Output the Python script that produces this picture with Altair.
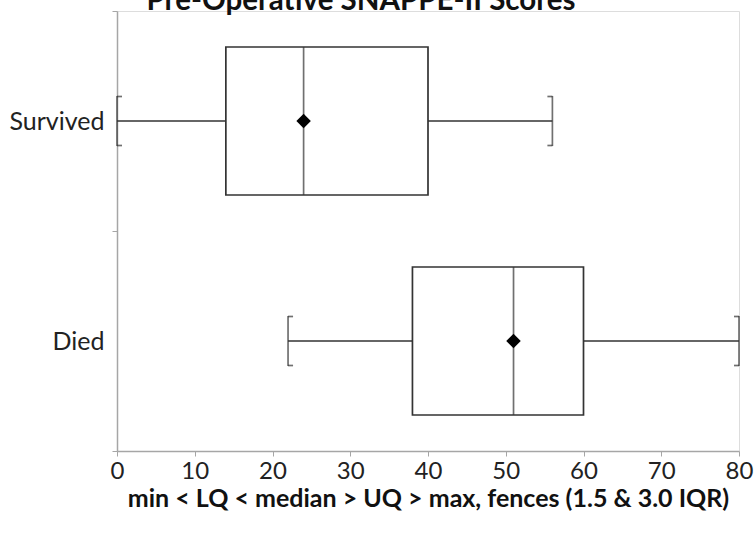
import altair as alt
import pandas as pd

categories = ["Survived", "Died"]
mins = [0, 22]
lower_q = [14, 38]
medians = [24, 51]
upper_q = [40, 60]
maxs = [56, 80]
means = [24, 51]

x_ticks = [0, 10, 20, 30, 40, 50, 60, 70, 80]
title_text = "Pre-Operative SNAPPE-II Scores"
x_title = "min < LQ < median > UQ > max, fences (1.5 & 3.0 IQR)"

df = pd.DataFrame({
    "cat": categories,
    "min": mins,
    "q1": lower_q,
    "median": medians,
    "q3": upper_q,
    "max": maxs,
    "mean": means,
})
title_df = pd.DataFrame({"t": [title_text]})

FONT = "Lato"
LINE = "#333333"
AX = "#a6a6a6"
BAND = 220

x_scale = alt.Scale(domain=[0, 80], nice=False, zero=False)
y_scale = alt.Scale(domain=categories, paddingInner=0, paddingOuter=0)

x_axis = alt.Axis(values=x_ticks, title=x_title, grid=False, domainColor=AX, domainWidth=1.5,
                  tickColor=AX, tickSize=5, labelFontSize=24, labelFont=FONT, labelColor="#222",
                  labelPadding=3, titleFont=FONT, titleFontSize=25, titleFontWeight="bold",
                  titleColor="#111", titlePadding=3, labelFlush=False)
y_axis = alt.Axis(title=None, grid=False, domainColor=AX, domainWidth=1.5, tickColor=AX,
                  tickSize=5, tickBand="extent", labelFontSize=25, labelFont=FONT,
                  labelColor="#222", labelPadding=8)

base = alt.Chart(df)
Y = alt.Y("cat:N", scale=y_scale, axis=y_axis, sort=categories)
Yn = alt.Y("cat:N", scale=y_scale, sort=categories)

box = base.mark_bar(size=148, fill="white", stroke=LINE, strokeWidth=1.7).encode(
    x=alt.X("q1:Q", scale=x_scale, axis=x_axis), x2="q3:Q", y=Y)
whisk_lo = base.mark_rule(color=LINE, strokeWidth=1.7).encode(
    x=alt.X("min:Q", scale=x_scale), x2="q1:Q", y=Yn)
whisk_hi = base.mark_rule(color=LINE, strokeWidth=1.7).encode(
    x=alt.X("q3:Q", scale=x_scale), x2="max:Q", y=Yn)
med = base.mark_tick(orient="vertical", size=148, thickness=1.7, color=LINE).encode(
    x=alt.X("median:Q", scale=x_scale), y=Yn)
fence_lo = base.mark_tick(orient="vertical", size=50, thickness=1.7, color=LINE).encode(
    x=alt.X("min:Q", scale=x_scale), y=Yn)
fence_hi = base.mark_tick(orient="vertical", size=50, thickness=1.7, color=LINE).encode(
    x=alt.X("max:Q", scale=x_scale), y=Yn)

caps = []
for field, dx in (("min", 2.5), ("max", -2.5)):
    for dy in (-24.5, 24.5):
        caps.append(base.mark_tick(orient="horizontal", size=5, thickness=1.7, color=LINE).encode(
            x=alt.X(f"{field}:Q", scale=x_scale), y=Yn,
            xOffset=alt.value(dx), yOffset=alt.value(BAND / 2 + dy)))

mean_pt = base.mark_point(shape="diamond", filled=True, size=210, color="black", opacity=1).encode(
    x=alt.X("mean:Q", scale=x_scale), y=Yn)

title_mark = alt.Chart(title_df).mark_text(font=FONT, fontSize=29.5, fontWeight="bold", color="#111",
                                           align="center", baseline="alphabetic").encode(
    text="t:N", x=alt.value(244), y=alt.value(-1))

chart = alt.layer(whisk_lo, whisk_hi, box, med, fence_lo, fence_hi, *caps, mean_pt, title_mark).properties(
    width=622, height=440,
    padding={"left": 117, "top": 11, "right": 16, "bottom": 83},
    autosize=alt.AutoSizeParams(type="none"),
).configure_view(stroke=None).configure(background="white")

chart.save("out.html", embed_options={"renderer": "svg", "actions": False})
